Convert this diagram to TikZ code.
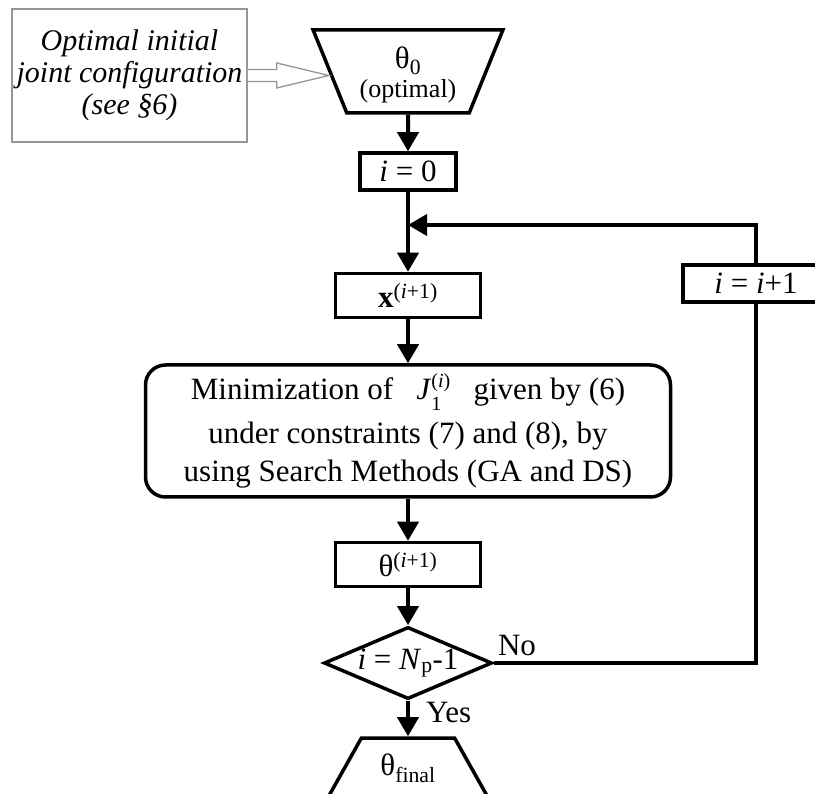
\documentclass[tikz,border=0pt]{standalone}
\usepackage{fontspec}
\setmainfont{Liberation Serif}
\usetikzlibrary{shapes.geometric,arrows.meta,positioning,calc}
\usepackage{xcolor}
\definecolor{notegray}{RGB}{150,150,150}
\newcommand{\subsup}[2]{\rlap{\raisebox{-11pt}{\fontsize{20}{20}\selectfont #1}}\raisebox{12pt}{\fontsize{20}{20}\selectfont #2}}
\tikzset{
    flowbox/.style={
        rectangle,
        draw,
        line width=3.5pt,
        minimum width=145pt,
        minimum height=44pt,
        inner sep=0pt
    },
    smallbox/.style={
        flowbox,
        minimum width=96pt,
        minimum height=37pt
    },
    taskbox/.style={
        flowbox,
        rounded corners=20pt,
        align=center
    },
    testbox/.style={
        diamond,
        draw,
        line width=3.5pt,
        aspect=2.33,
        inner sep=0pt
    },
    terminal/.style={
        trapezium,
        draw,
        line width=3.5pt,
        trapezium stretches=true,
        inner sep=0pt,
        align=center
    },
    notebox/.style={
        rectangle,
        draw=notegray,
        line width=1.5pt,
        align=center,
        font=\fontsize{30}{32}\selectfont\itshape
    },
    hollowarrow/.style={
        draw=notegray,
        fill=white,
        line width=1.3pt,
        line join=miter
    },
    flow/.style={
        line width=4pt,
        -{Triangle[length=19pt,width=21pt]}
    },
    link/.style={
        line width=4pt
    }
}

\begin{document}
\begin{tikzpicture}[x=1pt,y=-1pt,font=\fontsize{31}{38}\selectfont]
    \useasboundingbox (0,0) rectangle (815,794);
    \clip (0,0) rectangle (815,794);

    % Flow chart nodes
    \node[notebox, minimum width=235pt, minimum height=133pt] (note) at (129.5,75.5)
        {Optimal initial\\joint configuration\\(see §6)};
    \node[terminal, trapezium left angle=116.6, trapezium right angle=116.6,
          minimum width=190pt, minimum height=83pt] (start) at (408,71.5)
        {\hspace*{100pt}\rule{0pt}{55pt}};
    \node[align=center, inner sep=0pt] (startlbl) at (408,75)
        {θ\textsubscript{0}\\[-9pt]{\fontsize{26}{28}\selectfont (optimal)}};
    \node[smallbox] (init) at (408,171.5) {\textit{i} = 0};
    \node[flowbox] (xvec) at (408,295.5) {\textbf{x}\textsuperscript{(\textit{i}+1)}};
    \node[taskbox, minimum width=525pt, minimum height=132pt] (minim) at (408,431)
        {Minimization of~\enspace\textit{J}\subsup{1}{(\textit{i})}\enspace~given by (6)\\[6pt]
         under constraints (7) and (8), by\\
         using Search Methods (GA and DS)};
    \node[flowbox] (theta) at (408,564.5) {θ\textsuperscript{(\textit{i}+1)}};
    \node[testbox] (test) at (408,663) {\textit{i} = \textit{N}\textsubscript{p}-1};
    \node[terminal, trapezium left angle=55.1, trapezium right angle=55.1,
          minimum width=161pt, minimum height=60pt] (final) at (408,768)
        {θ\textsubscript{final}};
    \node[smallbox, minimum width=146pt] (incr) at (756,283.5) {\textit{i} = \textit{i}+1};
    \coordinate (merge) at (408,225);

    % Hollow pointer from the note
    \draw[hollowarrow] ($(note.east)+(0,-6)$) -- ++(29,0) -- ++(0,-6.5)
        -- ($(note.east)+(81,0)$) -- ($(note.east)+(29,12.5)$) -- ++(0,-6.5)
        -- ($(note.east)+(0,6)$);

    % Connections
    \draw[flow] (start) -- (init);
    \draw[link] (init) -- (merge);
    \draw[flow] (merge) -- (xvec);
    \draw[flow] (xvec) -- (minim);
    \draw[flow] (minim) -- (theta);
    \draw[flow] (theta) -- (test);
    \draw[flow] (test) -- (final);
    \draw[link] (test.east) -| (incr.south);
    \draw[flow] (incr.north) |- (merge);

    % Branch labels
    \node[anchor=base west, inner sep=0pt] (nolbl) at ($(test.east)+(4,-8)$) {No};
    \node[anchor=base west, inner sep=0pt] (yeslbl) at ($(test.south)+(18,22)$) {Yes};
\end{tikzpicture}
\end{document}
